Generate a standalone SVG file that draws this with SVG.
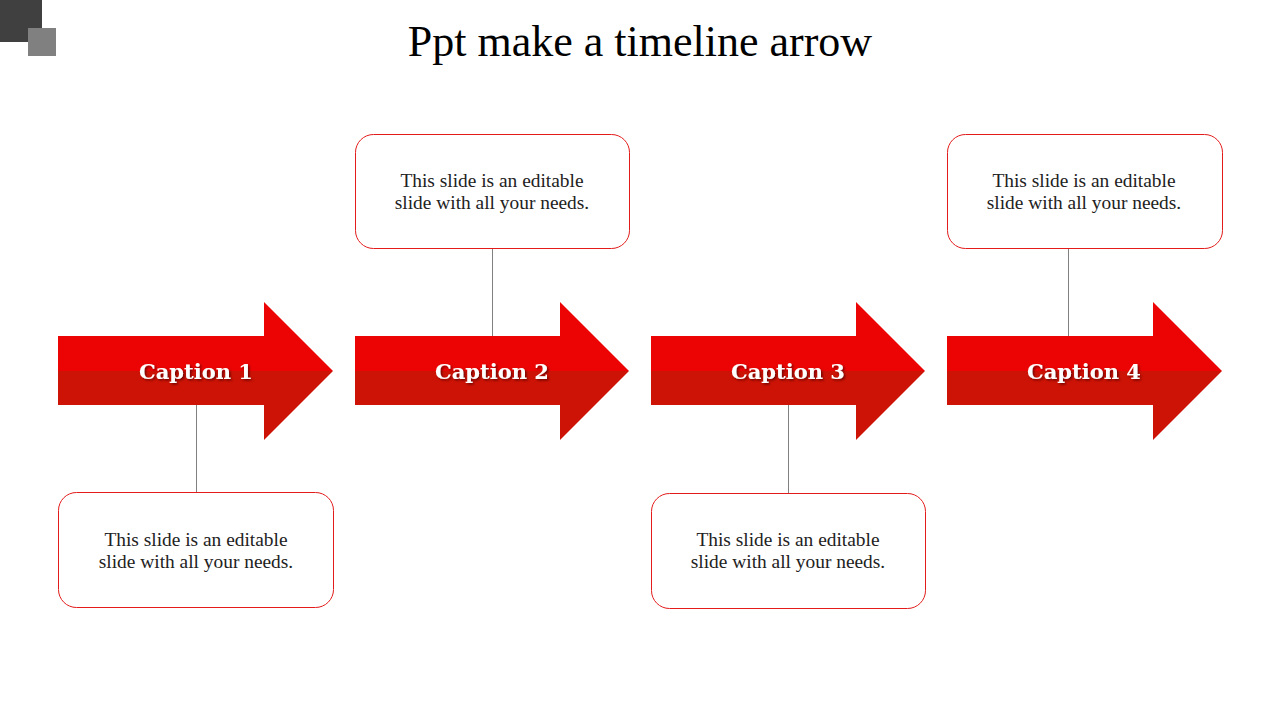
<svg xmlns="http://www.w3.org/2000/svg" width="1280" height="720" viewBox="0 0 1280 720">
<defs>
<style>
.top{fill:#EC0404}
.bot{fill:#CD1305}
.box{fill:#fff;stroke:#E31B1B;stroke-width:1}
.ln{stroke:#808080;stroke-width:1;fill:none}
.cap{font-family:"DejaVu Serif","Liberation Serif",serif;font-weight:bold;font-size:21px;fill:#fff;text-anchor:middle;filter:url(#sh)}
.txt{font-family:"Liberation Serif",serif;font-size:19.4px;fill:#222;text-anchor:middle}
.title{font-family:"Liberation Serif",serif;font-size:44px;fill:#000;text-anchor:middle}
</style>
<filter id="sh" x="-10%" y="-30%" width="120%" height="160%">
<feDropShadow dx="1.5" dy="1.5" stdDeviation="0.8" flood-color="#5a0000" flood-opacity="0.8"/>
</filter>
</defs>
<rect width="1280" height="720" fill="#fff"/>
<rect x="0" y="0" width="42" height="42" fill="#404040"/>
<rect x="28" y="28" width="28" height="28" fill="#808080"/>
<text class="title" x="640" y="56">Ppt make a timeline arrow</text>
<g id="connectors">
<line class="ln" x1="196.5" y1="405" x2="196.5" y2="492"/>
<line class="ln" x1="492.5" y1="248" x2="492.5" y2="336"/>
<line class="ln" x1="788.5" y1="405" x2="788.5" y2="493"/>
<line class="ln" x1="1068.5" y1="248" x2="1068.5" y2="336"/>
</g>
<g id="arrow1">
<polygon class="top" points="58,336 264,336 264,302 333,371 58,371"/>
<polygon class="bot" points="58,371 333,371 264,440 264,405 58,405"/>
<text class="cap" x="196" y="379">Caption 1</text>
</g>
<g id="arrow2">
<polygon class="top" points="355,336 560,336 560,302 629,371 355,371"/>
<polygon class="bot" points="355,371 629,371 560,440 560,405 355,405"/>
<text class="cap" x="492" y="379">Caption 2</text>
</g>
<g id="arrow3">
<polygon class="top" points="651,336 856,336 856,302 925,371 651,371"/>
<polygon class="bot" points="651,371 925,371 856,440 856,405 651,405"/>
<text class="cap" x="788" y="379">Caption 3</text>
</g>
<g id="arrow4">
<polygon class="top" points="947,336 1153,336 1153,302 1222,371 947,371"/>
<polygon class="bot" points="947,371 1222,371 1153,440 1153,405 947,405"/>
<text class="cap" x="1084" y="379">Caption 4</text>
</g>
<g id="box1">
<rect class="box" x="58.5" y="492.5" width="275" height="115" rx="18"/>
<text class="txt" x="196" y="546">This slide is an editable</text>
<text class="txt" x="196" y="568">slide with all your needs.</text>
</g>
<g id="box2">
<rect class="box" x="355.5" y="134.5" width="274" height="114" rx="18"/>
<text class="txt" x="492" y="187">This slide is an editable</text>
<text class="txt" x="492" y="209">slide with all your needs.</text>
</g>
<g id="box3">
<rect class="box" x="651.5" y="493.5" width="274" height="115" rx="18"/>
<text class="txt" x="788" y="546">This slide is an editable</text>
<text class="txt" x="788" y="568">slide with all your needs.</text>
</g>
<g id="box4">
<rect class="box" x="947.5" y="134.5" width="275" height="114" rx="18"/>
<text class="txt" x="1084" y="187">This slide is an editable</text>
<text class="txt" x="1084" y="209">slide with all your needs.</text>
</g>
</svg>
